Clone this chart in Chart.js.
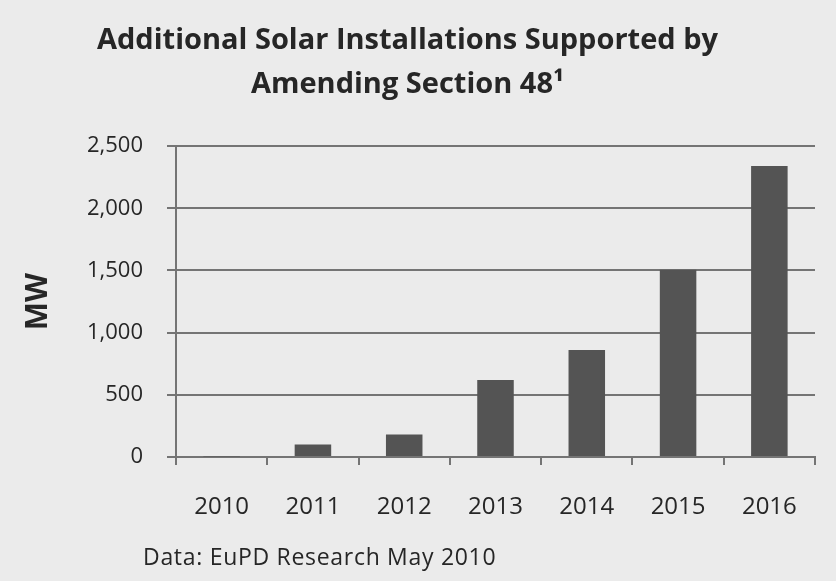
<!DOCTYPE html>
<html>
<head>
<meta charset="utf-8">
<script src="https://cdn.jsdelivr.net/npm/chart.js@4.4.1/dist/chart.umd.min.js"></script>
<style>
html,body{margin:0;padding:0;background:#ebebeb;}
#wrap{width:836px;height:581px;position:relative;}
</style>
</head>
<body>
<div id="wrap"><canvas id="c" width="836" height="581"></canvas></div>
<script>
const categories = ["2010","2011","2012","2013","2014","2015","2016"];
const mwValues = [5, 100, 180, 620, 860, 1505, 2340];
const yTicks = [0, 500, 1000, 1500, 2000, 2500];
const titleLines = ["Additional Solar Installations Supported by", "Amending Section 48\u00B9"];
const yAxisLabel = "MW";
const sourceNote = "Data: EuPD Research May 2010";

const FONT = "'Open Sans', Lato, sans-serif";
const TEXT = "#262626";
const LINE = "#747474";

const footnote = {
  id: "footnote",
  afterDraw(chart) {
    const ctx = chart.ctx;
    ctx.save();
    ctx.font = "23px " + FONT;
    if ("letterSpacing" in ctx) ctx.letterSpacing = "0.7px";
    ctx.fillStyle = TEXT;
    ctx.textBaseline = "alphabetic";
    ctx.textAlign = "left";
    ctx.fillText(sourceNote, 143, 565);
    ctx.restore();
  }
};

new Chart(document.getElementById("c"), {
  type: "bar",
  data: {
    labels: categories,
    datasets: [{
      data: mwValues,
      backgroundColor: "#545454",
      borderWidth: 0,
      categoryPercentage: 0.8,
      barPercentage: 0.5
    }]
  },
  options: {
    responsive: false,
    animation: false,
    layout: { padding: { left: 0, right: 21, top: 0, bottom: 0 } },
    plugins: {
      legend: { display: false },
      tooltip: { enabled: false },
      title: {
        display: true,
        text: titleLines,
        color: TEXT,
        font: { family: FONT, size: 29, weight: "bold", lineHeight: 1.52 },
        padding: { top: 19, bottom: 39 }
      }
    },
    scales: {
      x: {
        grid: { display: true, drawOnChartArea: false, drawTicks: true, tickLength: 8, color: LINE, lineWidth: 2, offset: true },
        border: { display: true, color: LINE, width: 2 },
        ticks: { color: TEXT, font: { family: FONT, size: 24 }, padding: 28 },
        afterFit(s) { s.height = 124; }
      },
      y: {
        min: 0, max: 2500,
        afterBuildTicks(s) { s.ticks = yTicks.map(v => ({ value: v })); },
        grid: { color: LINE, lineWidth: 2, drawTicks: true, tickLength: 9 },
        border: { display: true, color: LINE, width: 2 },
        ticks: {
          color: TEXT, font: { family: FONT, size: 22 }, padding: 24,
          callback: v => v.toLocaleString("en-US")
        },
        title: {
          display: true, text: yAxisLabel, color: TEXT,
          font: { family: FONT, size: 30, weight: "bold", lineHeight: 1.2 },
          padding: { top: 20, bottom: 0 }
        },
        afterFit(s) { s.width = 176; }
      }
    }
  },
  plugins: [footnote]
});
</script>
</body>
</html>
